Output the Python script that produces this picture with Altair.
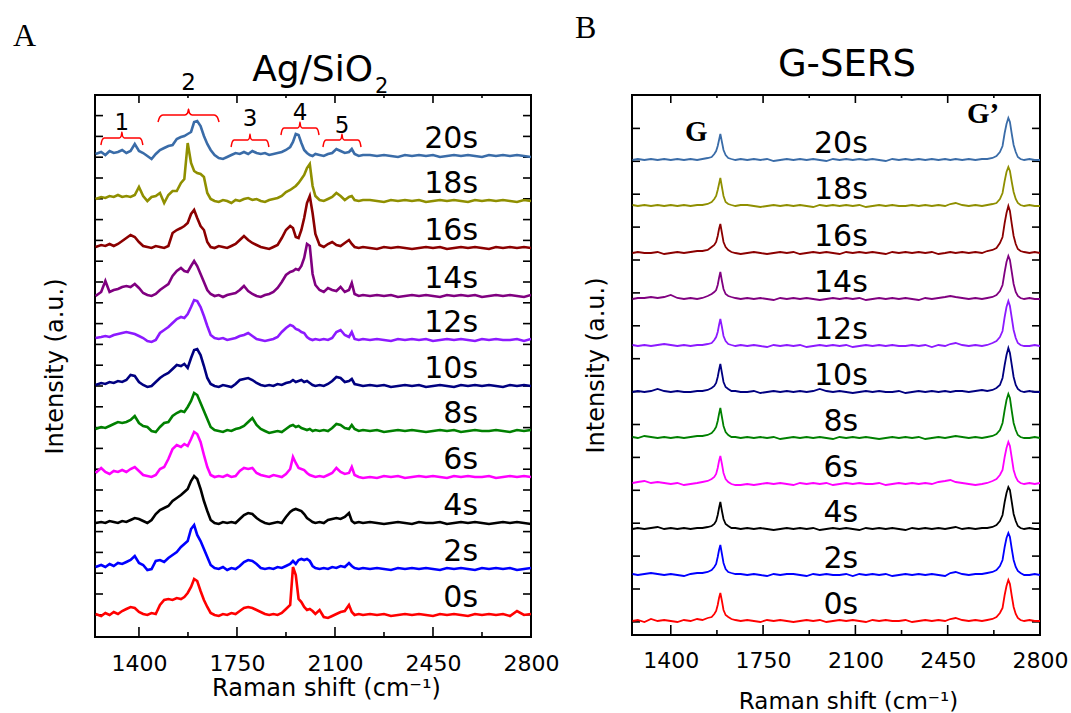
import altair as alt
import pandas as pd

# ---------------------------------------------------------------- data
TIMES = ["0s", "2s", "4s", "6s", "8s", "10s", "12s", "14s", "16s", "18s", "20s"]
COLORS = ["#ff0000", "#0000ff", "#000000", "#ff00ff", "#008000", "#000080",
          "#8c1aff", "#800080", "#8b0000", "#8f8f00", "#3a6ca8"]

# Panel A: Ag/SiO2 spectra, Raman shift grid (cm^-1)
A_X = [1245, 1265, 1280, 1295, 1310, 1325, 1340, 1355, 1370, 1385, 1400, 1415, 1430, 1445, 1460, 1475, 1490, 1505, 1520, 1535, 1550,
       1562, 1574, 1586, 1597, 1608, 1620, 1632, 1644, 1656,
       1670, 1685, 1700, 1715, 1730, 1745, 1760, 1775, 1790, 1805, 1820, 1835, 1850, 1865, 1880, 1895, 1910, 1925, 1940,
       1950, 1960, 1970, 1980, 1990, 2000, 2010, 2020, 2030,
       2045, 2060, 2075, 2090, 2105, 2120, 2135, 2150, 2160, 2170, 2185, 2200,
       2225, 2250, 2275, 2300, 2325, 2350, 2375, 2400, 2425, 2450, 2475, 2500, 2525, 2550, 2575, 2600, 2625, 2650, 2675, 2700, 2725, 2750, 2775, 2800]

A_0S = ([1, -1, 2, 0, 3, 1, 4, 6, 8, 7, 3, 1, 0, 2, 1, 10, 15, 16, 15, 17, 16]
        + [18, 22, 28, 36, 34, 24, 15, 8, 2]
        + [0, -1, 1, 0, 2, 1, 4, 7, 8, 7, 5, 3, 1, 0, 1, 0, 2, 6, 10]
        + [48, 40, 16, 13, 8, 5, 6, 4, 1]
        + [5, -2, -3, -1, 1, 3, 4, 10, 3, 0, 1, 0]
        + [1, 0, 1, -1, 0, 1, 0, 1, 0, -1, 1, 0, 1, 0, -1, 1, 0, 1, 0, 1, -1, 4, 0, 1])
A_2S = ([2, 4, 2, 5, 3, 6, 5, 7, 9, 13, 6, 4, -1, 0, 8, 9, 7, 11, 14, 17, 22]
        + [25, 28, 40, 44, 34, 28, 20, 12, 4]
        + [1, 0, 2, -1, 1, 0, 3, 7, 9, 8, 5, 1, 0, 1, 0, 2, 1, 3, 5]
        + [8, 5, 9, 10, 9, 10, 8, 3, 1]
        + [0, 1, 0, 2, 1, 3, 2, 6, 3, 1, 0, 1]
        + [0, 1, 0, -1, 1, 0, 1, 0, 1, 0, -1, 1, 0, 1, 0, -1, 1, 0, 1, 0, 1, -1, 0, 1])
A_4S = ([0, 1, 0, 2, 1, 0, 2, 1, 3, 5, 4, 2, 0, 3, 9, 13, 15, 17, 22, 25, 28]
        + [31, 34, 42, 47, 44, 34, 22, 12, 3]
        + [0, -1, 1, 0, 1, 0, 4, 8, 10, 9, 5, 2, 0, -1, 0, 1, 0, 6, 11]
        + [13, 14, 13, 12, 9, 5, 3, 1, 0]
        + [1, 0, 3, 4, 5, 4, 6, 10, 2, 0, 1, 0]
        + [1, 0, -1, 0, 1, 0, -1, 1, 0, 0, 1, -1, 0, 1, 0, 1, 0, -1, 0, 1, 0, 1, 0, -1])
A_6S = ([4, 9, 5, 3, 6, 5, 7, 5, 8, 10, 6, 2, 1, 0, 2, 8, 10, 18, 28, 32, 30]
        + [33, 31, 38, 45, 43, 35, 22, 10, 2]
        + [0, 1, 0, 2, 0, 1, 6, 9, 8, 9, 4, 2, 1, 0, 2, 1, 0, 3, 8]
        + [20, 14, 9, 8, 7, 4, 2, 1, 0]
        + [1, 0, 2, 4, 9, 5, 3, 4, 10, 2, 0, -1]
        + [0, -1, 1, 0, 1, -1, 0, 1, 0, 1, 0, -1, 1, 0, 1, 0, 0, 1, -1, 0, 1, 0, 1, 0])
A_8S = ([2, 4, 3, 5, 7, 9, 8, 9, 11, 15, 8, 5, 4, 0, -1, 4, 8, 9, 15, 18, 20]
        + [19, 24, 30, 38, 36, 28, 20, 12, 4]
        + [1, 0, -1, 1, 0, 2, 3, 5, 9, 13, 6, 2, 0, -2, -1, 0, -1, 2, 5]
        + [6, 4, 5, 3, 2, 1, 2, 0, 1]
        + [0, 1, 0, 3, 7, 6, 3, 2, 6, 2, 0, 1]
        + [0, 1, -1, 0, 1, 0, 1, 0, -1, 0, 1, 0, 1, -1, 0, 1, 0, 0, 1, 0, -1, 1, 0, 1])
A_10S = ([1, 3, 2, 4, 3, 5, 4, 6, 11, 10, 4, 1, -1, 0, 4, 8, 11, 13, 17, 21, 20]
         + [22, 18, 28, 36, 37, 31, 20, 8, 2]
         + [0, -1, 1, 0, -1, 2, 6, 7, 8, 6, 3, 1, 0, 1, 0, 2, 1, 3, 4]
         + [6, 4, 5, 6, 4, 5, 3, 1, 0]
         + [1, 0, 2, 5, 9, 8, 4, 5, 7, 2, 1, 0]
         + [1, 0, 1, -1, 0, 1, 0, 1, -1, 0, 1, 0, -1, 1, 0, 1, 0, 1, 0, -1, 1, 0, 1, 0])
A_12S = ([2, 3, 4, 3, 5, 6, 7, 8, 7, 6, 4, 2, -1, -2, 0, 7, 10, 13, 17, 21, 23]
         + [22, 26, 33, 40, 39, 33, 24, 14, 5]
         + [2, 1, 2, 0, 1, 2, 4, 5, 7, 4, 1, 0, -1, 0, 1, 3, 8, 12, 15]
         + [14, 11, 10, 8, 7, 3, 1, 0, 1]
         + [0, 1, 0, 2, 8, 10, 5, 3, 8, 1, 0, 1]
         + [0, 1, 0, -1, 1, 0, 1, 0, 1, -1, 0, 1, 0, 1, 0, -1, 1, 0, 1, 0, 0, 1, -1, 1])
A_14S = ([0, 4, 15, 4, 6, 7, 9, 10, 9, 12, 8, 3, 1, 0, 2, 6, 9, 12, 20, 25, 28]
         + [25, 24, 30, 35, 30, 22, 14, 6, 2]
         + [0, 1, -1, 1, 2, 3, 6, 10, 5, 2, 0, -1, 1, 2, 4, 8, 14, 21, 24]
         + [25, 27, 26, 30, 38, 52, 50, 22, 11]
         + [6, 4, 8, 6, 5, 9, 4, 6, 13, 2, 0, 1]
         + [0, 1, 0, 1, -1, 0, 1, 0, 1, 0, -1, 1, 0, 1, 0, 1, -1, 0, 1, 0, 1, 0, -1, 1])
A_16S = ([1, 3, 2, 4, 2, 4, 7, 10, 13, 11, 6, 2, 1, 0, 2, 1, 0, 2, 15, 18, 20]
         + [22, 25, 34, 38, 30, 22, 18, 6, 1]
         + [0, 2, 1, 0, 2, 4, 8, 12, 8, 5, 3, 1, 0, -1, 1, 3, 10, 18, 22]
         + [20, 11, 10, 18, 30, 45, 52, 35, 14]
         + [3, 1, 4, 6, 3, 2, 5, 8, 4, 1, 0, 1]
         + [0, -1, 1, 0, 1, 0, -1, 0, 1, 0, 1, -1, 0, 1, 0, 1, 0, -1, 1, 0, 1, 0, 1, 0])
A_18S = ([2, 4, 3, 5, 4, 6, 4, 5, 4, 6, 14, 5, 0, 4, 5, 8, -2, 6, 10, 10, 18]
         + [22, 58, 38, 30, 28, 27, 24, 8, 2]
         + [0, -1, 1, 0, -2, 1, 0, 2, 3, 1, 2, 0, -1, 1, 2, 3, 5, 9, 11]
         + [13, 15, 18, 22, 26, 33, 37, 15, 5]
         + [1, 0, 2, 4, 8, 5, 1, 4, 5, 1, 0, 1]
         + [1, 0, -1, 1, 0, 1, 0, 1, -1, 0, 1, 0, 1, 0, -1, 1, 0, 1, 0, 1, 0, -1, 1, 0])
A_20S = ([2, 4, 1, 5, 3, 4, 6, 3, 5, 12, 5, 3, 0, -3, 2, 6, 8, 10, 11, 17, 19]
         + [20, 22, 24, 34, 35, 30, 20, 12, 6]
         + [1, -2, -3, -1, 1, 3, 2, 4, 2, 5, 3, 2, 3, 1, 2, 3, 4, 6, 9]
         + [14, 22, 21, 13, 6, 3, 1, 0, 2]
         + [1, 0, 2, 3, 7, 5, 3, 4, 7, 2, 0, 1]
         + [1, 0, 1, 0, -1, 1, 0, 1, 0, 1, -1, 0, 1, 0, 1, 0, -1, 1, 0, 1, 0, 1, 0, -1])
A_SPECTRA = [A_0S, A_2S, A_4S, A_6S, A_8S, A_10S, A_12S, A_14S, A_16S, A_18S, A_20S]
A_OFFSETS = [22, 68, 114, 160, 206, 251, 297, 341, 389, 436, 481]

# Panel A band groups: start, end, brace level, label
BR_LABELS = ["1", "2", "3", "4", "5"]
BR_START = [1264, 1468, 1729, 1907, 2057]
BR_END = [1414, 1686, 1864, 2043, 2193]
BR_LEVEL = [499, 522, 497, 509, 497]
BR_TEXT_Y = [507, 547, 511, 517, 504]

# Panel B: G-SERS spectra
B_X = [1255, 1275, 1300, 1325, 1350, 1375, 1400, 1425, 1450, 1475, 1500,
       1520, 1540, 1555, 1565, 1572, 1578, 1583, 1588, 1594, 1600, 1608, 1618, 1630, 1645, 1665,
       1690, 1715, 1740, 1765, 1790, 1815, 1840, 1865, 1890, 1915, 1940, 1965, 1990, 2015, 2040, 2065,
       2090, 2115, 2140, 2165, 2190, 2215, 2240, 2265, 2290, 2315, 2340, 2365, 2390, 2415, 2440,
       2460, 2480, 2505, 2530, 2555, 2580,
       2600, 2620, 2635, 2648, 2658, 2666, 2673, 2680, 2686, 2693, 2700, 2708, 2716, 2726, 2740, 2760, 2780, 2800]

B_0S = ([0, 1, -1, 2, 0, 1, 0, -1, 1, 0, 2]
        + [1, 3, 4, 7, 10, 16, 23, 28, 20, 11, 6, 4, 2, 1, 0]
        + [1, 0, -1, 1, 0, 1, 0, -1, 0, 1, 0, 1, -1, 0, 1, 0, 1, 0, -1, 1,
           0, 1, 0, 0, 1, -1, 0, 1, 0, 1, 0, 2, 3, 1, 0, 1, 0]
        + [1, 2, 4, 8, 13, 26, 35, 41, 37, 25, 14, 7, 3, 1, 0, 1, 0, 0])
B_2S = ([1, 0, 1, 2, 1, 0, 1, 0, -1, 1, 2]
        + [2, 3, 5, 8, 11, 18, 25, 30, 21, 12, 6, 3, 2, 1, 1]
        + [0, 1, 0, -1, 1, 0, 1, 1, 0, -1, 1, 0, 1, 0, 0, 1, -1, 1, 0, 1,
           0, 1, -1, 0, 1, 0, 1, 0, 1, 0, -1, 2, 3, 1, 0, 1, 1]
        + [2, 3, 5, 9, 15, 28, 37, 42, 38, 26, 15, 8, 4, 2, 0, 0, 1, 0])
B_4S = ([0, 1, 0, 1, 2, 0, 1, 0, 1, 0, 1]
        + [1, 2, 3, 5, 8, 14, 21, 27, 18, 10, 5, 3, 1, 1, 0]
        + [1, 0, 1, 0, -1, 0, 1, 0, 1, 0, 1, -1, 0, 1, 0, 1, 0, -1, 1, 0,
           1, 0, 1, 0, -1, 1, 0, 1, 0, 1, 0, 1, 2, 0, 1, 0, 1]
        + [1, 2, 4, 8, 14, 27, 36, 42, 39, 27, 15, 8, 3, 1, 0, 1, 0, 0])
B_6S = ([1, 2, 3, 1, 2, 1, 0, 1, -1, 0, 1]
        + [2, 3, 5, 7, 10, 16, 23, 28, 20, 11, 5, 2, 0, -1, -1]
        + [0, -1, 0, 1, 0, 1, 0, -1, 1, 0, 1, 0, 1, -1, 0, 1, 0, 1, 0, 0,
           1, -1, 0, 1, 0, 1, 0, 1, 0, 2, 3, 4, 2, 1, 0, -1, 0]
        + [1, 3, 5, 9, 14, 27, 36, 42, 38, 26, 14, 7, 3, 1, 0, 1, 0, 1])
B_8S = ([1, 0, 2, 1, 0, 1, 0, 1, 0, 1, 2]
        + [2, 3, 5, 8, 11, 17, 24, 30, 21, 12, 6, 3, 1, 1, 0]
        + [1, 0, 1, 0, 1, -1, 0, 1, 0, 1, 0, 1, 0, -1, 1, 0, 1, 0, 1, 0,
           -1, 0, 1, 0, 1, 0, 1, -1, 0, 1, 0, 1, 2, 1, 0, 1, 0]
        + [1, 2, 4, 8, 15, 28, 38, 44, 40, 27, 15, 8, 3, 1, 0, 0, 1, 0])
B_10S = ([0, 1, 0, 1, 3, 1, 0, 1, 0, 0, 1]
         + [1, 2, 4, 6, 9, 15, 22, 28, 19, 10, 5, 3, 1, 1, 0]
         + [0, 1, -1, 0, 1, 0, 1, 0, 1, 0, 1, 3, 1, 0, 1, 0, -1, 0, 1, 0,
            1, 0, 0, 1, -1, 0, 1, 0, 1, 0, 1, 0, 1, 1, 0, 1, 2]
         + [1, 2, 4, 7, 14, 27, 37, 44, 39, 27, 15, 7, 3, 1, 0, 1, 0, 0])
B_12S = ([1, 0, 1, 0, 1, 2, 1, 0, 1, 0, 1]
         + [1, 2, 3, 6, 9, 14, 21, 27, 19, 10, 5, 2, 1, 0, 1]
         + [0, 1, 0, -1, 1, 0, 1, 0, 1, -1, 0, 1, 0, 1, 0, 1, -1, 0, 1, 0,
            1, 0, 1, 0, 0, 1, 0, 1, -1, 1, 0, 2, 3, 1, 0, 1, 0]
         + [1, 3, 5, 9, 15, 29, 39, 45, 40, 28, 16, 8, 3, 1, 0, 0, 1, 0])
B_14S = ([0, 1, 1, 2, 1, 2, 4, 1, 0, 1, 0]
         + [1, 3, 5, 7, 9, 14, 21, 27, 18, 10, 5, 3, 2, 1, 0]
         + [1, 0, 1, 0, -1, 1, 0, 1, 0, 1, 0, -1, 0, 1, 0, 1, 0, 1, -1, 0,
            1, 0, 1, 0, 1, 0, -1, 1, 0, 1, 2, 3, 2, 1, 0, 1, 0]
         + [1, 2, 4, 8, 14, 27, 37, 43, 39, 27, 15, 7, 3, 1, 0, 1, 0, 0])
B_16S = ([0, 1, 0, 0, 1, -1, 0, 1, 0, 1, 2]
         + [2, 3, 6, 8, 11, 17, 24, 29, 20, 11, 6, 3, 1, 0, -1]
         + [0, 1, 0, -1, 0, 1, 0, 1, -1, 0, 1, 0, 1, 0, -1, 1, 0, 1, 0, 1,
            0, -1, 1, 0, 1, 0, 1, 0, 1, -1, 0, 1, 0, 1, 0, 1, 0]
         + [2, 3, 5, 10, 16, 30, 40, 47, 42, 29, 17, 9, 4, 2, 1, 0, 1, 0])
B_18S = ([1, 0, 1, 0, 1, 0, 1, 0, 1, 0, 1]
         + [1, 2, 4, 7, 10, 16, 22, 28, 19, 10, 4, 2, 1, 0, 1]
         + [1, 0, -1, 0, 1, 0, 1, 0, 1, 0, -1, 1, 0, 1, 0, 1, 0, 1, -1, 0,
            1, 0, 1, 0, 0, 1, 0, 1, 0, 1, 0, 2, 3, 1, 0, 1, 0]
         + [1, 2, 3, 7, 13, 25, 34, 39, 35, 24, 14, 7, 3, 1, 0, 1, 0, 0])
B_20S = ([0, 1, 0, 1, 0, 1, 0, 1, 0, 1, 0]
         + [1, 2, 3, 6, 9, 14, 20, 26, 18, 10, 5, 2, 1, 0, 1]
         + [0, 1, 0, 1, -1, 0, 1, 0, 1, 0, 1, 0, -1, 1, 0, 1, 0, 1, 0, 1,
            0, -1, 1, 0, 1, 0, 1, 0, 1, 0, 1, 0, 1, 0, 1, 0, 1]
         + [1, 2, 4, 8, 14, 27, 36, 42, 38, 26, 15, 8, 3, 1, 0, 1, 0, 0])
B_SPECTRA = [B_0S, B_2S, B_4S, B_6S, B_8S, B_10S, B_12S, B_14S, B_16S, B_18S, B_20S]
B_OFFSETS = [14, 60, 106, 151, 197, 243, 289, 336, 382, 429, 475]

# Axis ticks
X_MAJOR = [1400, 1750, 2100, 2450, 2800]
X_MINOR = [1575, 1925, 2275, 2625]
A_YTICKS = [round(22.2 + 20.8 * k, 1) for k in range(25)]
B_YTICKS = [round(13.1 + 32.9 * k, 1) for k in range(16)]

SANS = "DejaVu Sans"
SERIF = "Liberation Serif"


def spectra_frame(xs, spectra, offsets):
    rows = []
    for t, ys, off in zip(TIMES, spectra, offsets):
        assert len(ys) == len(xs), t
        for x, h in zip(xs, ys):
            rows.append({"shift": x, "counts": off + h, "time": t})
    return pd.DataFrame(rows)


def brace_frame():
    rows = []
    for name, x0, x1, lv in zip(BR_LABELS, BR_START, BR_END, BR_LEVEL):
        w = x1 - x0
        c = (x0 + x1) / 2
        pts = [(x0, lv - 7), (x0 + 0.03 * w, lv - 2), (x0 + 0.08 * w, lv),
               (c - 0.06 * w, lv), (c - 0.015 * w, lv + 2), (c, lv + 6),
               (c + 0.015 * w, lv + 2), (c + 0.06 * w, lv),
               (x1 - 0.08 * w, lv), (x1 - 0.03 * w, lv - 2), (x1, lv - 7)]
        for i, (x, y) in enumerate(pts):
            rows.append({"shift": x, "counts": y, "brace": name, "i": i})
    return pd.DataFrame(rows)


color_scale = alt.Scale(domain=TIMES, range=COLORS)
one = pd.DataFrame({"k": [0]})


def tick_layers(xenc, yenc, yticks, width, height):
    maj = pd.DataFrame({"shift": X_MAJOR})
    mnr = pd.DataFrame({"shift": X_MINOR})
    yt = pd.DataFrame({"counts": yticks})
    layers = []
    for df, ln in ((maj, 10), (mnr, 5)):
        layers.append(alt.Chart(df).mark_rule(color="black", strokeWidth=1.6).encode(
            x=xenc, y=alt.value(height), y2=alt.value(height - ln)))
        layers.append(alt.Chart(df).mark_rule(color="black", strokeWidth=1.6).encode(
            x=xenc, y=alt.value(0), y2=alt.value(ln - 2)))
    layers.append(alt.Chart(yt).mark_rule(color="black", strokeWidth=1.6).encode(
        y=yenc, x=alt.value(0), x2=alt.value(8)))
    layers.append(alt.Chart(yt).mark_rule(color="black", strokeWidth=1.6).encode(
        y=yenc, x=alt.value(width - 8), x2=alt.value(width)))
    return layers


def text_at(txt, x, y, size, font=SANS, align="left", weight="normal"):
    return alt.Chart(one).mark_text(
        text=txt, font=font, fontSize=size, align=align, baseline="alphabetic",
        fontWeight=weight, color="black").encode(x=alt.value(x), y=alt.value(y))


# ---------------------------------------------------------------- panel A
WA, HA = 436, 542
xa = alt.X("shift:Q", scale=alt.Scale(domain=[1243, 2800], nice=False, zero=False),
           axis=alt.Axis(values=X_MAJOR, format="d", labelFontSize=22, labelBaseline="alphabetic",
                         labelPadding=33, labelFlush=False, labelOverlap=False,
                         title="Raman shift (cm\u207b\u00b9)", titleFontSize=24, titleX=231, titleY=58,
                         titleBaseline="alphabetic", titleAlign="center"))
ya = alt.Y("counts:Q", scale=alt.Scale(domain=[0, HA], nice=False, zero=False),
           axis=alt.Axis(labels=False, title="Intensity (a.u.)", titleFontSize=24, titleX=-33,
                         titleAngle=270, titleBaseline="alphabetic", titleAlign="center"))

a_df = spectra_frame(A_X, A_SPECTRA, A_OFFSETS)
a_lines = alt.Chart(a_df).mark_line(strokeWidth=2.6, clip=True).encode(
    x=xa, y=ya, color=alt.Color("time:N", scale=color_scale, legend=None))

a_lab = pd.DataFrame({"shift": [2611] * len(TIMES), "counts": [o + 8 for o in A_OFFSETS], "time": TIMES})
a_labels = alt.Chart(a_lab).mark_text(align="right", baseline="alphabetic", font=SANS,
                                      fontSize=30, color="black").encode(x=xa, y=ya, text="time:N")

a_braces = alt.Chart(brace_frame()).mark_line(color="#ff0000", strokeWidth=1.5,
                                              interpolate="monotone").encode(
    x=xa, y=ya, detail="brace:N", order="i:Q")
br_txt = pd.DataFrame({"shift": [(s + e) / 2 for s, e in zip(BR_START, BR_END)],
                       "counts": BR_TEXT_Y, "name": BR_LABELS})
a_br_text = alt.Chart(br_txt).mark_text(font=SANS, fontSize=23, baseline="alphabetic",
                                        color="black").encode(x=xa, y=ya, text="name:N")

a_bounds = alt.Chart(one).mark_rule(strokeOpacity=0).encode(
    x=alt.value(-94), x2=alt.value(475), y=alt.value(-92))

panel_a = alt.layer(
    a_bounds, *tick_layers(xa, ya, A_YTICKS, WA, HA), a_lines, a_braces, a_br_text, a_labels,
    text_at("Ag/SiO", 278, -14, 36, align="right"),
    text_at("2", 280, -2, 21),
    text_at("A", -82, -49, 32, font=SERIF),
).properties(width=WA, height=HA)

# ---------------------------------------------------------------- panel B
WB, HB = 408, 540
xb = alt.X("shift:Q", scale=alt.Scale(domain=[1253, 2800], nice=False, zero=False),
           axis=alt.Axis(values=X_MAJOR, format="d", labelFontSize=22, labelBaseline="alphabetic",
                         labelPadding=32, labelFlush=False, labelOverlap=False,
                         title="Raman shift (cm\u207b\u00b9)", titleFontSize=23, titleX=216, titleY=73,
                         titleBaseline="alphabetic", titleAlign="center"))
yb = alt.Y("counts:Q", scale=alt.Scale(domain=[0, HB], nice=False, zero=False),
           axis=alt.Axis(labels=False, title="Intensity (a.u.)", titleFontSize=24, titleX=-29,
                         titleAngle=270, titleBaseline="alphabetic", titleAlign="center"))

b_df = spectra_frame(B_X, B_SPECTRA, B_OFFSETS)
b_lines = alt.Chart(b_df).mark_line(strokeWidth=1.8, clip=True).encode(
    x=xb, y=yb, color=alt.Color("time:N", scale=color_scale, legend=None))

b_lab = pd.DataFrame({"shift": [2045] * len(TIMES), "counts": [o + 7 for o in B_OFFSETS], "time": TIMES})
b_labels = alt.Chart(b_lab).mark_text(align="center", baseline="alphabetic", font=SANS,
                                      fontSize=30, color="black").encode(x=xb, y=yb, text="time:N")

peak_txt = pd.DataFrame({"shift": [1497, 2584], "counts": [494, 512], "name": ["G", "G\u2019"]})
b_peaks = alt.Chart(peak_txt).mark_text(font=SERIF, fontSize=29, fontWeight="bold",
                                        baseline="alphabetic", color="black").encode(
    x=xb, y=yb, text="name:N")

b_bounds = alt.Chart(one).mark_rule(strokeOpacity=0).encode(
    x=alt.value(-60), x2=alt.value(0), y=alt.value(-94))

panel_b = alt.layer(
    b_bounds, *tick_layers(xb, yb, B_YTICKS, WB, HB), b_lines, b_peaks, b_labels,
    text_at("G-SERS", 215, -19, 37, align="center"),
    text_at("B", -57, -57, 32, font=SERIF),
).properties(width=WB, height=HB)

chart = alt.hconcat(panel_a, panel_b, spacing=0, padding=0).configure_view(
    stroke="black", strokeWidth=2
).configure_axis(
    grid=False, domain=False, ticks=False, tickSize=0,
    labelFont=SANS, titleFont=SANS, labelColor="black", titleColor="black",
    titleFontWeight="normal"
)

chart.save("out.html", embed_options={"renderer": "svg", "actions": False})
